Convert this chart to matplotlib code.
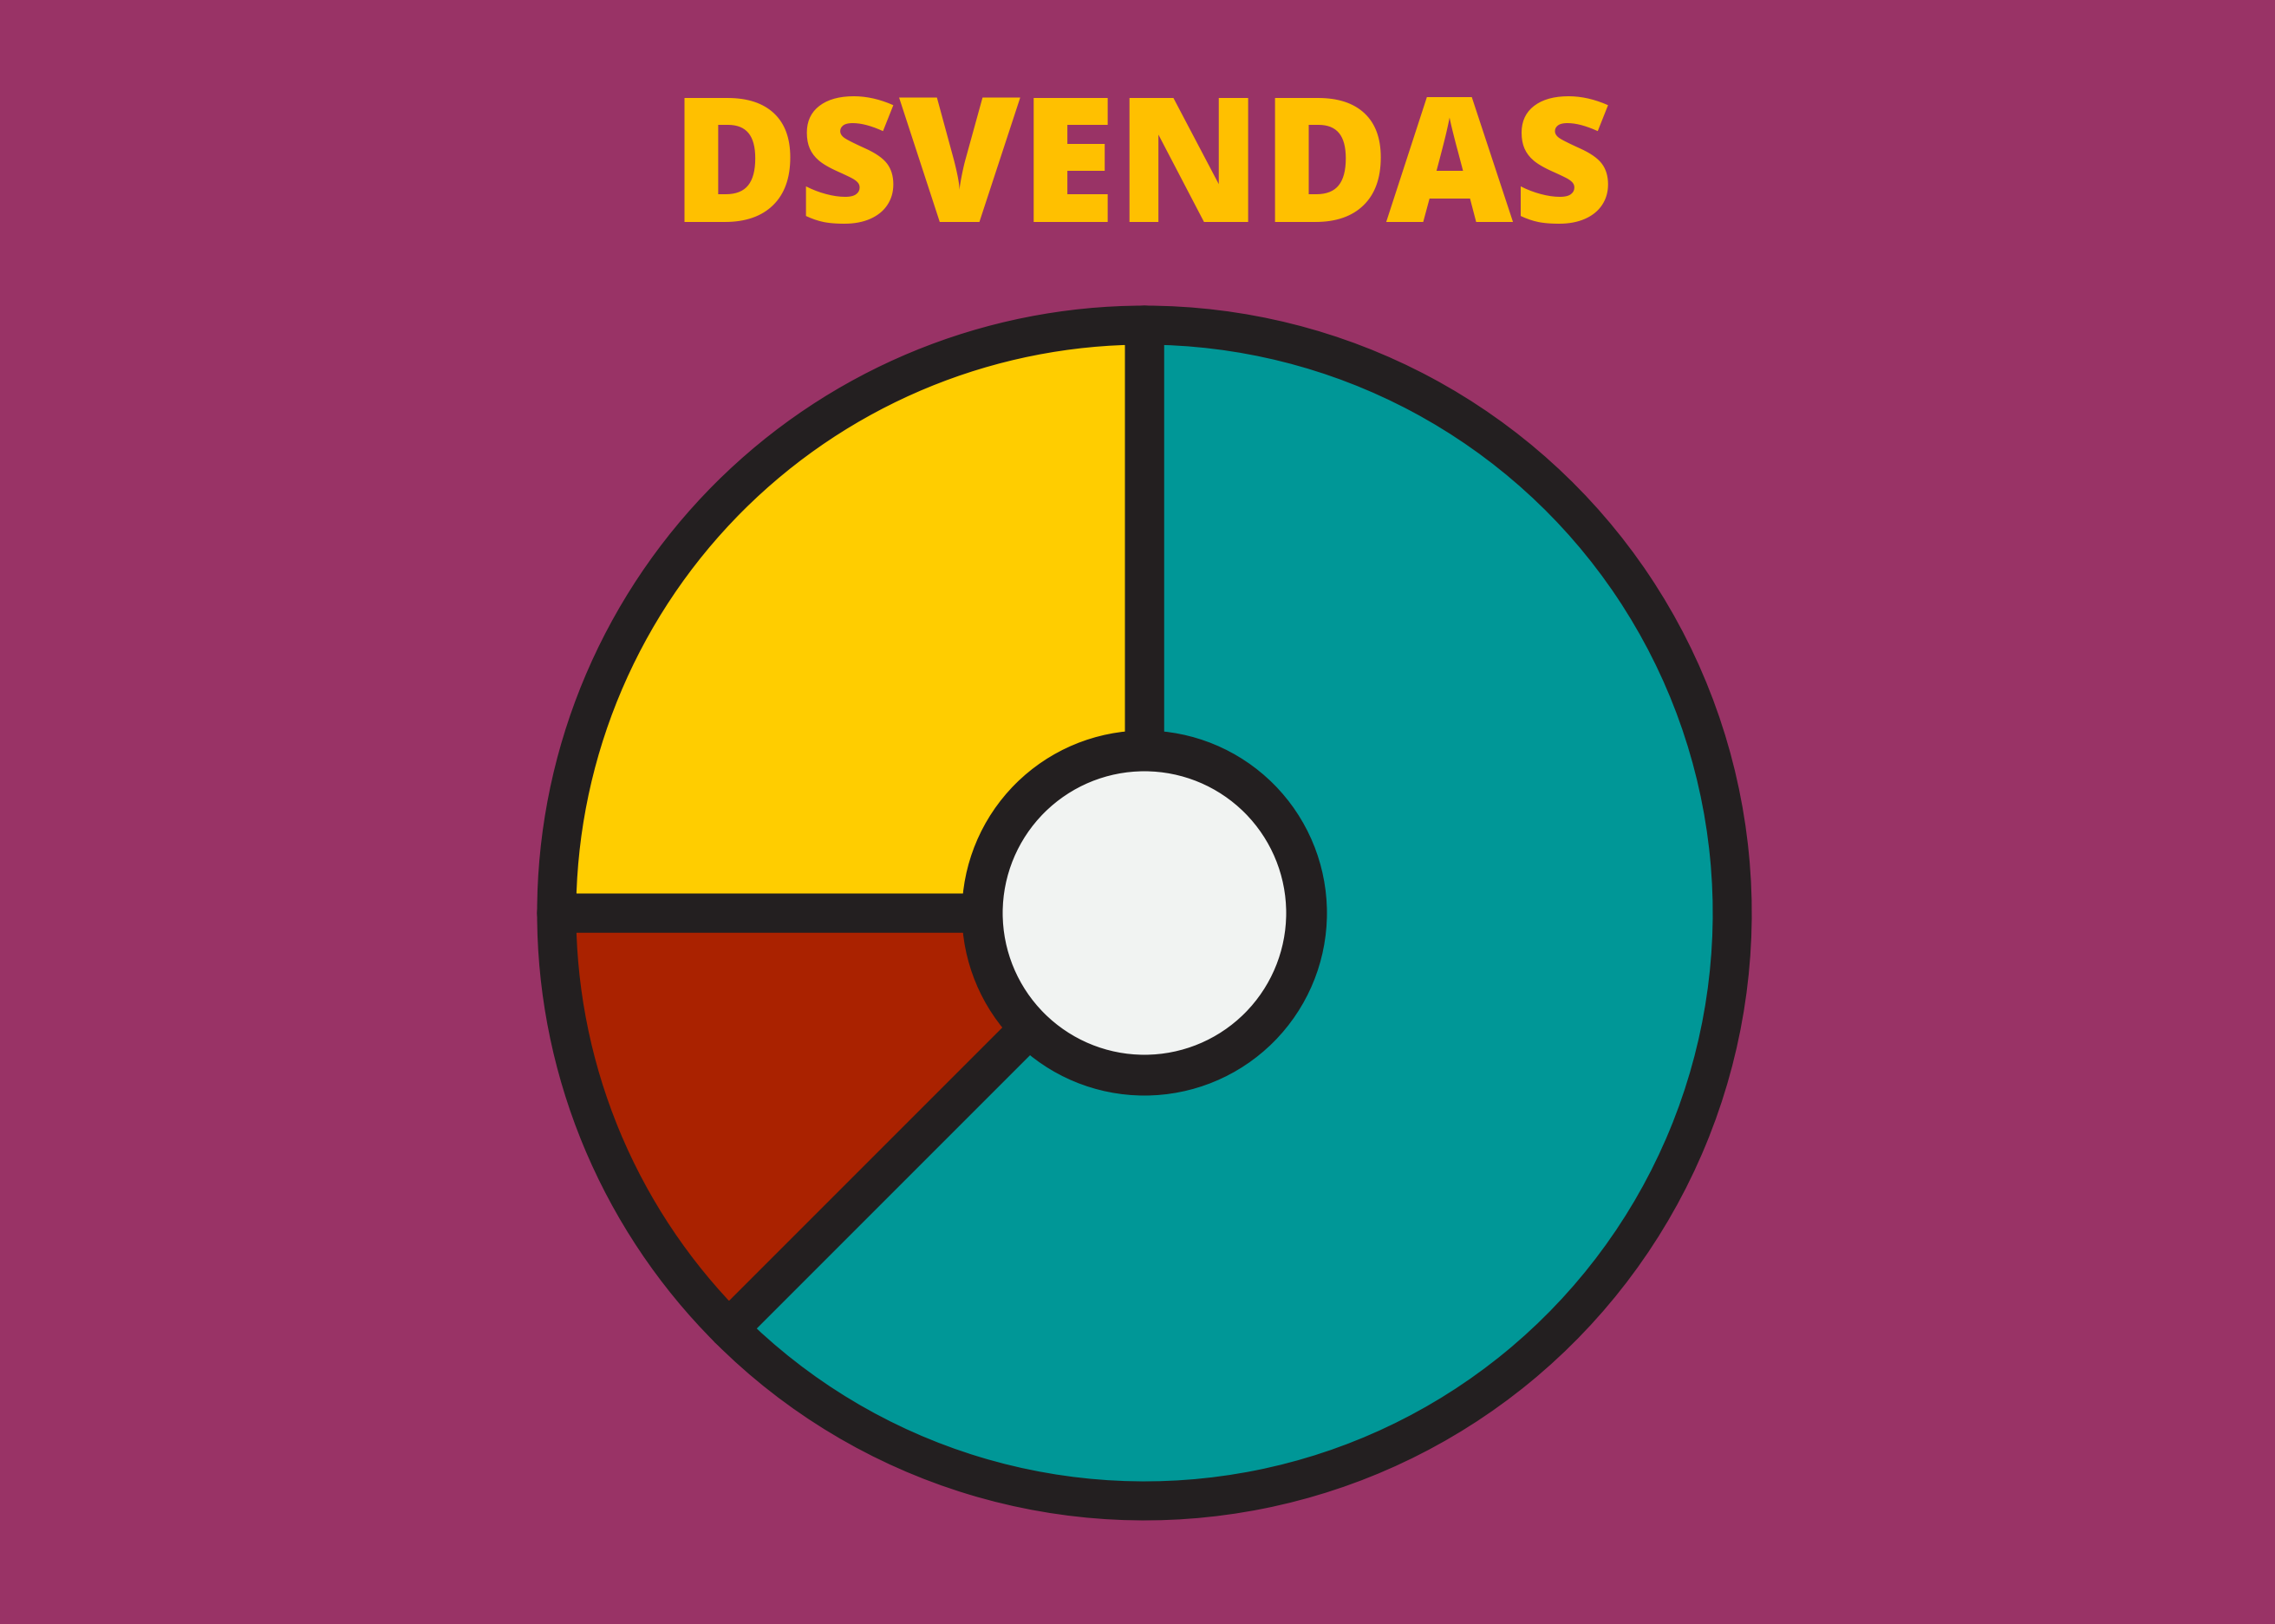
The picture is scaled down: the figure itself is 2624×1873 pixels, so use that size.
import matplotlib
matplotlib.use("Agg")
import matplotlib.pyplot as plt
from matplotlib.patches import Circle

# slice shares (clockwise from 12 o'clock)
labels = ["Teal", "Red", "Yellow"]
shares = [62.5, 12.5, 25.0]
colors = ["#009797", "#AA2200", "#FFCD00"]

title = "DSVENDAS"

bg = "#993366"
dark = "#231F20"

W, H = 2624, 1874
fig = plt.figure(figsize=(W / 100, H / 100), dpi=100, facecolor=bg)
ax = fig.add_axes([0, 0, 1, 1])

cx, cy = 1320, 820
lw = 45 * 0.72  # px -> pt

ax.pie(shares, colors=colors, center=(cx, cy), radius=678,
       startangle=90, counterclock=False, frame=True,
       wedgeprops=dict(edgecolor=dark, linewidth=lw, joinstyle="round"))
ax.set_xlim(0, W)
ax.set_ylim(0, H)
ax.set_aspect("equal")
ax.axis("off")

# center hole
ax.add_patch(Circle((cx, cy), 187, facecolor="#F1F3F2", edgecolor=dark,
                    linewidth=47 * 0.72, zorder=5))

fig.text(0.502, 0.8634, title, ha="center", va="baseline", color="#FFC000",
         fontsize=145, fontweight=800, family="Open Sans")

fig.savefig("out.png", dpi=100, facecolor=bg)
